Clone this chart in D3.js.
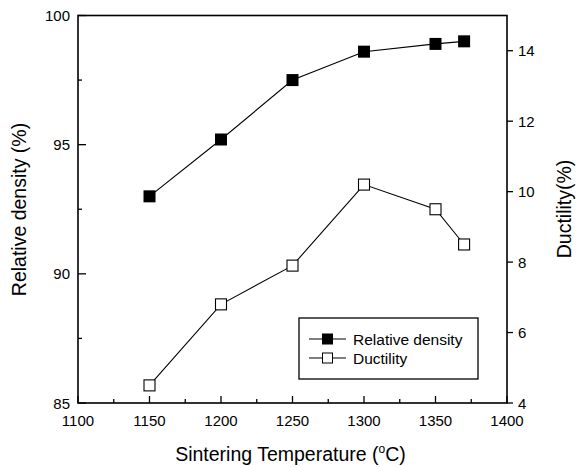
<!DOCTYPE html>
<html><head><meta charset="utf-8">
<script src="https://cdn.jsdelivr.net/npm/d3@7"></script>
<style>body{margin:0;background:#fff}svg{display:block}text{font-family:"Liberation Sans",Arial,sans-serif;fill:#000}</style>
</head><body><div id="c"></div>
<script>
const temps = [1150, 1200, 1250, 1300, 1350, 1370];
const density = [93.0, 95.2, 97.5, 98.6, 98.9, 99.0];
const ductility = [4.5, 6.8, 7.9, 10.2, 9.5, 8.5];
const xTicks = [1100, 1150, 1200, 1250, 1300, 1350, 1400];
const yLeftTicks = [85, 90, 95, 100];
const yRightTicks = [4, 6, 8, 10, 12, 14];

const W = 586, H = 467;
const L = 78, R = 507, T = 15.5, B = 403;
const svg = d3.select("#c").append("svg").attr("width", W).attr("height", H);
const x = d3.scaleLinear().domain([1100, 1400]).range([L, R]);
const yl = d3.scaleLinear().domain([85, 100]).range([B, T]);
const yr = d3.scaleLinear().domain([4, 15]).range([B, T]);

// frame
svg.append("rect").attr("x", L).attr("y", T).attr("width", R - L).attr("height", B - T)
  .attr("fill", "none").attr("stroke", "#000").attr("stroke-width", 1.6);

// x axis (ticks inside)
const xMinor = d3.range(1125, 1400, 50);
svg.append("g").selectAll("line").data(xTicks).join("line")
  .attr("x1", d => x(d)).attr("x2", d => x(d)).attr("y1", B).attr("y2", B - 7)
  .attr("stroke", "#000").attr("stroke-width", 1.3);
svg.append("g").selectAll("line").data(xMinor).join("line")
  .attr("x1", d => x(d)).attr("x2", d => x(d)).attr("y1", B).attr("y2", B - 4)
  .attr("stroke", "#000").attr("stroke-width", 1.3);
svg.append("g").selectAll("text").data(xTicks).join("text")
  .attr("x", d => x(d)).attr("y", 426).attr("text-anchor", "middle")
  .attr("font-size", 15).text(d => d);

// left axis (ticks inside)
const ylMinor = [87.5, 92.5, 97.5];
svg.append("g").selectAll("line").data(yLeftTicks).join("line")
  .attr("x1", L).attr("x2", L + 8).attr("y1", d => yl(d)).attr("y2", d => yl(d))
  .attr("stroke", "#000").attr("stroke-width", 1.3);
svg.append("g").selectAll("line").data(ylMinor).join("line")
  .attr("x1", L).attr("x2", L + 4).attr("y1", d => yl(d)).attr("y2", d => yl(d))
  .attr("stroke", "#000").attr("stroke-width", 1.3);
svg.append("g").selectAll("text").data(yLeftTicks).join("text")
  .attr("x", 70).attr("y", d => yl(d) + 5.5).attr("text-anchor", "end")
  .attr("font-size", 15).text(d => d);

// right axis (ticks outside)
svg.append("g").selectAll("line").data(yRightTicks).join("line")
  .attr("x1", R).attr("x2", R + 6).attr("y1", d => yr(d)).attr("y2", d => yr(d))
  .attr("stroke", "#000").attr("stroke-width", 1.3);
svg.append("g").selectAll("text").data(yRightTicks).join("text")
  .attr("x", 518).attr("y", d => yr(d) + 5.5).attr("text-anchor", "start")
  .attr("font-size", 15).text(d => d);

// axis titles
const xt = svg.append("text").attr("x", 290.5).attr("y", 461).attr("text-anchor", "middle")
  .attr("font-size", 19.5);
xt.append("tspan").text("Sintering Temperature (");
xt.append("tspan").attr("font-size", 12).attr("dy", -8).text("o");
xt.append("tspan").attr("dy", 8).text("C)");

svg.append("text").attr("transform", `translate(26,209.5) rotate(-90)`)
  .attr("text-anchor", "middle").attr("font-size", 19.5).text("Relative density (%)");
svg.append("text").attr("transform", `translate(571,209) rotate(-90)`)
  .attr("text-anchor", "middle").attr("font-size", 19.5).text("Ductility(%)");

// series
const line1 = d3.line().x((d, i) => x(temps[i])).y(d => yl(d));
const line2 = d3.line().x((d, i) => x(temps[i])).y(d => yr(d));
svg.append("path").attr("d", line1(density)).attr("fill", "none").attr("stroke", "#000").attr("stroke-width", 1.1);
svg.append("path").attr("d", line2(ductility)).attr("fill", "none").attr("stroke", "#000").attr("stroke-width", 1.1);
const S = 12;
svg.append("g").selectAll("rect").data(density).join("rect")
  .attr("x", (d, i) => x(temps[i]) - S / 2).attr("y", d => yl(d) - S / 2)
  .attr("width", S).attr("height", S).attr("fill", "#000");
svg.append("g").selectAll("rect").data(ductility).join("rect")
  .attr("x", (d, i) => x(temps[i]) - S / 2 + 0.5).attr("y", d => yr(d) - S / 2 + 0.5)
  .attr("width", S - 1).attr("height", S - 1).attr("fill", "#fff").attr("stroke", "#000").attr("stroke-width", 1.1);

// legend
const lg = svg.append("g");
lg.append("rect").attr("x", 299).attr("y", 318).attr("width", 179).attr("height", 61)
  .attr("fill", "#fff").attr("stroke", "#000").attr("stroke-width", 1.3);
const items = [{n: "Relative density", f: "#000", y: 339}, {n: "Ductility", f: "#fff", y: 358}];
items.forEach(it => {
  lg.append("line").attr("x1", 309).attr("x2", 346).attr("y1", it.y).attr("y2", it.y).attr("stroke", "#000").attr("stroke-width", 1.1);
  lg.append("rect").attr("x", 327.5 - 5).attr("y", it.y - 5).attr("width", 10).attr("height", 10)
    .attr("fill", it.f).attr("stroke", "#000").attr("stroke-width", 1);
  lg.append("text").attr("x", 353).attr("y", it.y + 5.5).attr("font-size", 15.5).text(it.n);
});
</script></body></html>
